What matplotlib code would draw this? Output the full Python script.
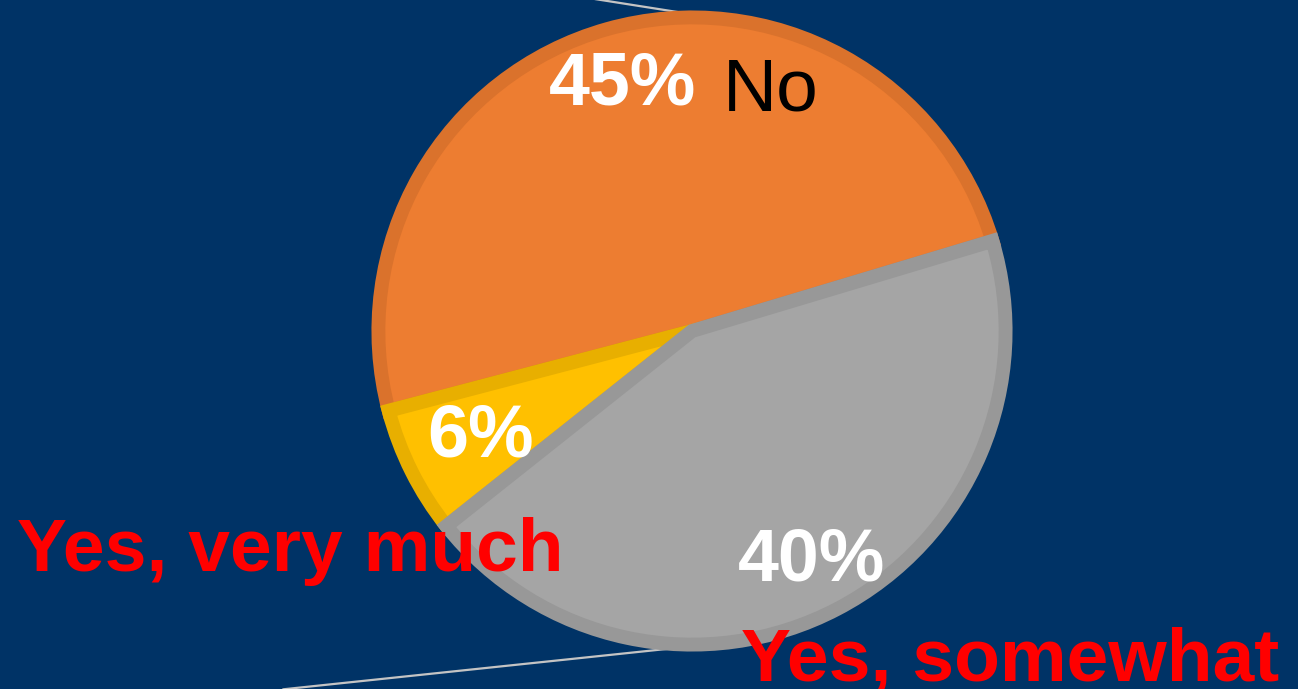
import numpy as np
import matplotlib.pyplot as plt

plt.rcParams['font.family'] = ['Liberation Sans', 'DejaVu Sans']

labels = ['No', 'Yes, very much', 'Yes, somewhat']
values = [45, 6, 40]
colors = ['#ED7D31', '#FFC000', '#A5A5A5']
edge_colors = ['#DA722C', '#E8AF00', '#989898']
bg = '#003366'

R = 0.98
fig = plt.figure(figsize=(12.98, 6.89), dpi=100, facecolor=bg)
ax = fig.add_axes([0, 0, 1, 1])
ax.set_facecolor(bg)

wedges, _ = ax.pie(values, colors=colors, startangle=16.7, counterclock=True,
                   radius=R, center=(0, 0), frame=True,
                   wedgeprops=dict(linewidth=0))
ax.set_xlim(-692 / 320, (1298 - 692) / 320)
ax.set_ylim(-(689 - 331) / 320, 331 / 320)
ax.set_aspect('equal')
ax.axis('off')

# inner border on every slice: double-width edge clipped to the slice itself
for w, ec in zip(wedges, edge_colors):
    w.set_edgecolor(ec)
    w.set_linewidth(10)
    w.set_clip_path(w)

# connector lines leaving the pie at top and bottom
for ang, x_end, y_end in [(85, -0.32, 1.04), (-85, -1.28, -1.12)]:
    t = np.deg2rad(ang)
    ax.plot([R * np.cos(t), x_end], [R * np.sin(t), y_end], color='#C4C4C4',
            lw=1.6, zorder=0.5, solid_capstyle='butt')

# value labels along each slice's middle angle
dist = [0.80, 0.74, 0.81]
for w, v, d in zip(wedges, values, dist):
    mid = np.deg2rad((w.theta1 + w.theta2) / 2)
    ax.text(d * np.cos(mid), d * np.sin(mid), f'{v}%', color='white',
            fontsize=53, fontweight='bold', ha='center', va='center')

ax.text(0.245, 0.75, labels[0], color='black', fontsize=54,
        ha='center', va='center')
ax.text(-1.256, -0.69, labels[1], color='#FF0000', fontsize=54,
        fontweight='bold', ha='center', va='center')
ax.text(0.994, -1.03, labels[2], color='#FF0000', fontsize=54,
        fontweight='bold', ha='center', va='center')

fig.savefig('out.png', dpi=100, facecolor=bg)
